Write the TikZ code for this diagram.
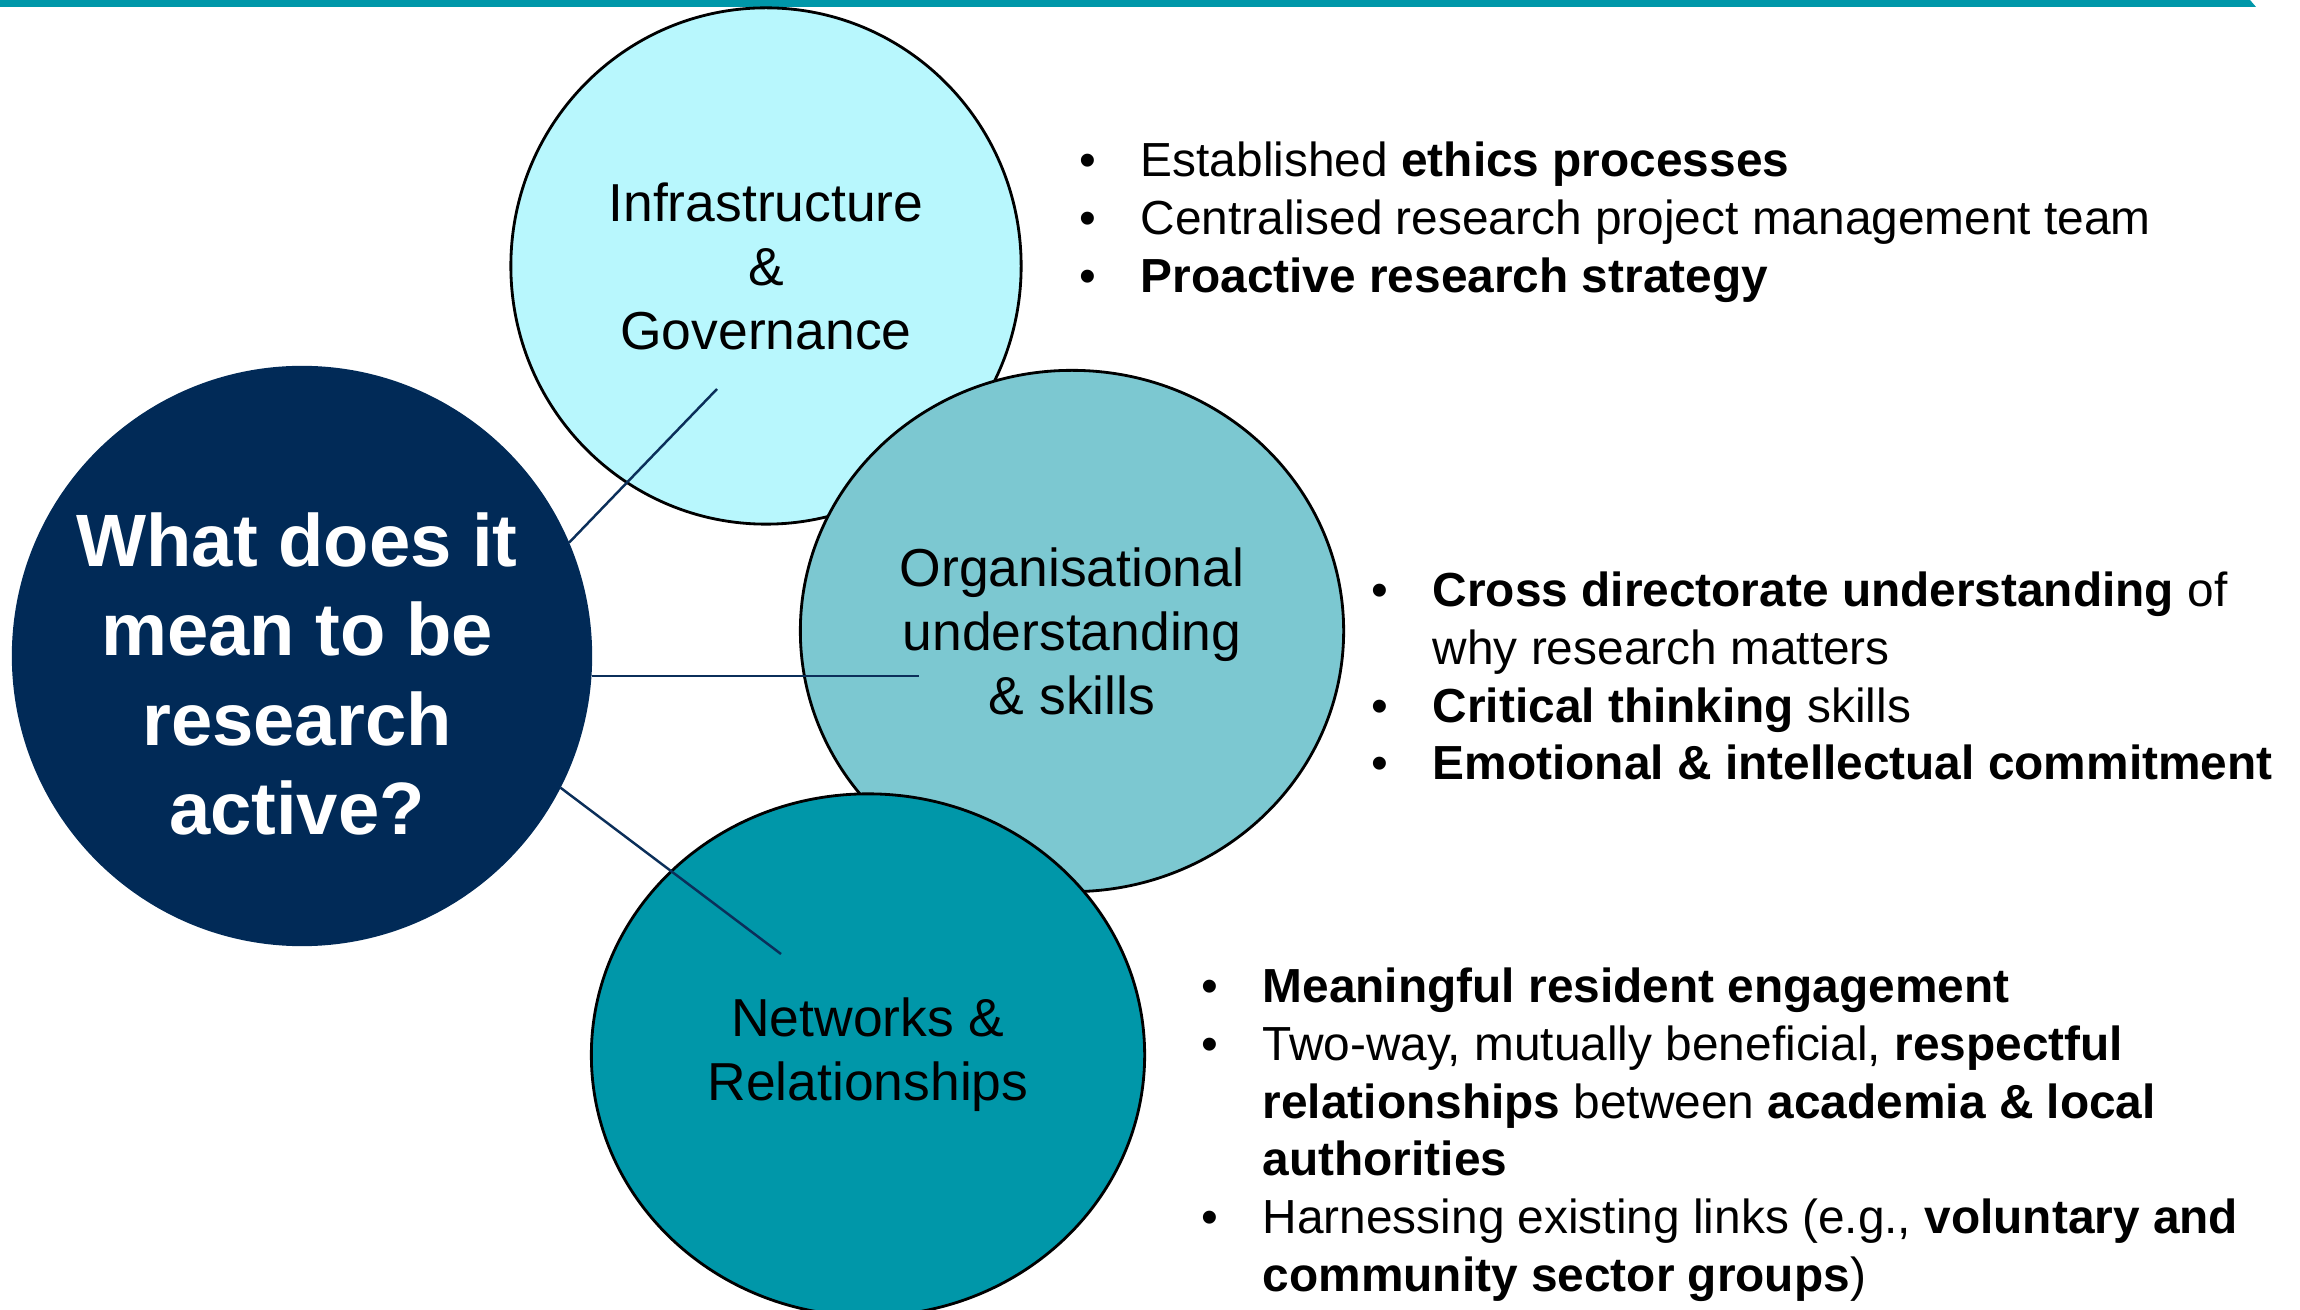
\documentclass[tikz,border=0pt]{standalone}
\usepackage{fontspec}
\setmainfont{Liberation Sans}
\usetikzlibrary{shapes.geometric}
\definecolor{barteal}{HTML}{0097A9}
\definecolor{infrafill}{HTML}{B8F7FD}
\definecolor{orgfill}{HTML}{7CC8D1}
\definecolor{netfill}{HTML}{0097A9}
\definecolor{askfill}{HTML}{012A57}
\definecolor{linknavy}{HTML}{0B2F5A}
\newcommand{\bul}{\makebox[0.61cm][l]{\textbullet}}
\newcommand{\gap}{\hspace*{0.61cm}}
\tikzset{
  area/.style={ellipse, draw=black, line width=0.8pt, inner sep=0pt, outer sep=0pt,
    align=center, font=\fontsize{15.2}{18.2}\selectfont},
  pts/.style={anchor=north west, inner sep=0pt, align=left,
    font=\fontsize{13.6}{16.45}\selectfont},
  link/.style={draw=linknavy, line width=0.7pt}
}

\begin{document}
\begin{tikzpicture}[x=0.01cm, y=-0.01cm]
			%%%%% START %%%%%
			\useasboundingbox (0,0) rectangle (2300,1310);
			\fill[barteal] (0,0) -- (2250,0) -- (2256,7) -- (0,7) -- cycle;
			
			\node[area, fill=infrafill, minimum width=5.10cm, minimum height=5.16cm] (infra) at (766,266) {Infrastructure\\ \&\\ Governance};
			\node[area, fill=orgfill, minimum width=5.43cm, minimum height=5.21cm] (org) at (1072,631) {Organisational\\ understanding\\ \& skills};
			\node[area, fill=netfill, minimum width=5.53cm, minimum height=5.22cm] (net) at (868,1055) {Networks \&\\ Relationships};
			
			\node[circle, fill=askfill, minimum size=5.80cm, inner sep=0pt, outer sep=0pt] (ask) at (302,656) {};
			\node[text=white, align=center, font=\bfseries\fontsize{21.1}{25.46}\selectfont] (asktext) at (297,674) {What does it\\ mean to be\\ research\\ active?};
			
			\coordinate (infratip) at (717,389);
			\coordinate (orgtip) at (919,676);
			\coordinate (nettip) at (781,954);
			\draw[link] (ask.23.6) -- (infratip);
			\draw[link] (ask.east |- orgtip) -- (orgtip);
			\draw[link] (ask.-27.6) -- (nettip);
			
			\node[pts] (infrapts) at (1079,141) {\bul Established \textbf{ethics processes}\\ \bul Centralised research project management team\\ \bul \textbf{Proactive research strategy}};
			\node[pts] (orgpts) at (1371,571) {\bul \textbf{Cross directorate understanding} of\\ \gap why research matters\\ \bul \textbf{Critical thinking} skills\\ \bul \textbf{Emotional \& intellectual commitment}};
			\node[pts] (netpts) at (1201,967) {\bul \textbf{Meaningful resident engagement}\\ \bul Two-way, mutually beneficial, \textbf{respectful}\\ \gap\textbf{relationships} between \textbf{academia \& local}\\ \gap\textbf{authorities}\\ \bul Harnessing existing links (e.g., \textbf{voluntary and}\\ \gap\textbf{community sector groups})};
			%%%%% END %%%%%
\end{tikzpicture}
\end{document}
